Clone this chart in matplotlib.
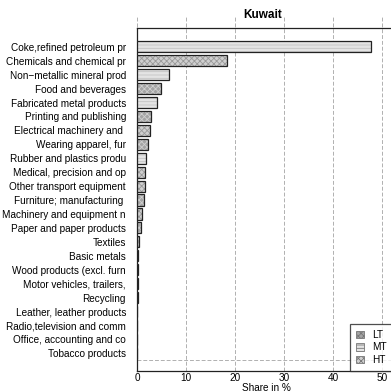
import matplotlib
matplotlib.use("Agg")
import matplotlib.pyplot as plt
from matplotlib.patches import Patch

plt.rcParams['font.family'] = ['Liberation Sans', 'DejaVu Sans']
plt.rcParams['hatch.linewidth'] = 0.6

categories = ["Coke,refined petroleum pr", "Chemicals and chemical pr", "Non\u2212metallic mineral prod",
              "Food and beverages", "Fabricated metal products", "Printing and publishing",
              "Electrical machinery and ", "Wearing apparel, fur", "Rubber and plastics produ",
              "Medical, precision and op", "Other transport equipment", "Furniture; manufacturing ",
              "Machinery and equipment n", "Paper and paper products", "Textiles", "Basic metals",
              "Wood products (excl. furn", "Motor vehicles, trailers,", "Recycling",
              "Leather, leather products", "Radio,television and comm", "Office, accounting and co",
              "Tobacco products"]
values = [47.7, 18.4, 6.5, 4.9, 4.1, 2.9, 2.7, 2.3, 1.9, 1.7, 1.7, 1.5, 1.0, 0.8, 0.45, 0.3,
          0.2, 0.2, 0.15, 0.05, 0.03, 0.02, 0.0]
classes = ["MT", "HT", "MT", "LT", "MT", "LT", "HT", "LT", "MT", "HT", "HT", "LT", "HT", "LT",
           "LT", "MT", "LT", "HT", "LT", "LT", "HT", "HT", "LT"]
xticks = [0, 10, 20, 30, 40, 50]

style = {
    "LT": dict(facecolor="#a4a4a4", hatch="xxxxxx", hcolor="#d0d0d0"),
    "MT": dict(facecolor="#e4e4e4", hatch="-----", hcolor="#c4c4c4"),
    "HT": dict(facecolor="#cfcfcf", hatch="xxxxxx", hcolor="#9a9a9a"),
}

W, H = 391, 392
fig = plt.figure(figsize=(W / 100, H / 100), dpi=100)
x0, x1 = 137, 137 + 53 * 4.9
ytop, ybot = 28, 371
ax = fig.add_axes([x0 / W, 1 - ybot / H, (x1 - x0) / W, (ybot - ytop) / H])

n = len(categories)
pos = list(range(n - 1, -1, -1))
for p, v, c in zip(pos, values, classes):
    st = style[c]
    ax.barh(p, v, height=0.8, facecolor=st["facecolor"], hatch=st["hatch"],
            edgecolor=st["hcolor"], linewidth=0, zorder=3)
    ax.barh(p, v, height=0.8, facecolor="none", edgecolor="#222222", linewidth=0.9, zorder=4)

ax.set_xlim(0, 53)
ax.set_ylim(-1.27, n - 1 + 1.35)
ax.set_yticks(pos)
ax.set_yticklabels(categories, fontsize=7.2)
ax.set_xticks(xticks)
ax.set_xticklabels([str(t) for t in xticks], fontsize=7.2)
ax.tick_params(axis='y', length=0, pad=8)
ax.tick_params(axis='x', length=0, pad=1.5)
ax.set_xlabel("Share in %", fontsize=7.2, labelpad=0)

for t in xticks:
    ax.plot([t, t], [0, 1 + 11 / (ybot - ytop)], transform=ax.get_xaxis_transform(),
            color="#b0b0b0", linestyle=(0, (4, 2)), linewidth=0.7, clip_on=False, zorder=1)
ax.axhline(-0.45, color="#b0b0b0", linestyle=(0, (4, 2)), linewidth=0.7, zorder=1)

for s in ax.spines.values():
    s.set_linewidth(0.9)
    s.set_color("#222222")

handles = [Patch(facecolor=style[k]["facecolor"], hatch=style[k]["hatch"], edgecolor="#777777",
                 linewidth=0.6, label=k) for k in ["LT", "MT", "HT"]]
leg = ax.legend(handles=handles, loc="lower left", bbox_to_anchor=((350 - x0) / (x1 - x0), 0),
                fontsize=7.2, frameon=True, fancybox=False, handlelength=0.8, handleheight=0.8,
                handletextpad=0.8, labelspacing=0.25, borderpad=0.6, borderaxespad=0)
leg.get_frame().set_edgecolor("#222222")
leg.get_frame().set_linewidth(0.9)
leg.set_zorder(5)

fig.text(263 / W, 1 - 15 / H, "Kuwait", ha="center", va="center", fontsize=8.5, fontweight="bold")

fig.savefig("out.png", dpi=100)
